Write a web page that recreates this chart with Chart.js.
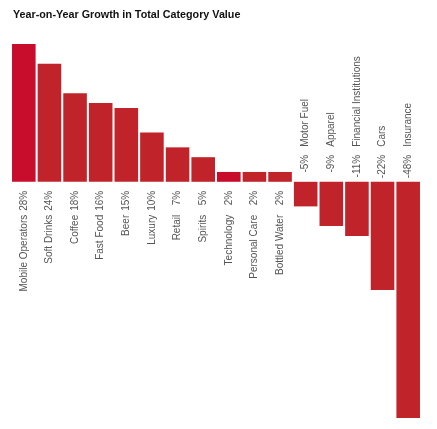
<!DOCTYPE html>
<html>
<head>
<meta charset="utf-8">
<script src="https://cdn.jsdelivr.net/npm/chart.js@4"></script>
<style>
  body { margin: 0; background: #fff; }
</style>
</head>
<body>
<canvas id="barChart" width="437" height="429"></canvas>
<script>
const categories = [
    'Mobile Operators', 'Soft Drinks', 'Coffee', 'Fast Food', 'Beer',
    'Luxury', 'Retail', 'Spirits', 'Technology', 'Personal Care',
    'Bottled Water', 'Motor Fuel', 'Apparel', 'Financial Institutions',
    'Cars', 'Insurance'
];
const growth = [28, 24, 18, 16, 15, 10, 7, 5, 2, 2, 2, -5, -9, -11, -22, -48];
const highlighted = ['Mobile Operators', 'Technology'];

const chartTitle = 'Year-on-Year Growth in Total Category Value';
const labelFont = '10px "Liberation Sans", Arial, sans-serif';

// two columns of rotated text: value next to the zero line, then the name
function rotatedText(ctx, text, x, y, align) {
    ctx.save();
    ctx.translate(x, y);
    ctx.rotate(-Math.PI / 2);
    ctx.textAlign = align;
    ctx.fillText(text, 0, 0);
    ctx.restore();
}

const barLabels = {
    id: 'barLabels',
    afterDatasetsDraw(chart) {
        const ctx = chart.ctx;
        const meta = chart.getDatasetMeta(0);
        const zero = chart.scales.y.getPixelForValue(0);
        ctx.save();
        ctx.font = labelFont;
        ctx.fillStyle = '#555';
        ctx.textBaseline = 'middle';
        meta.data.forEach((bar, i) => {
            const v = growth[i];
            if (v >= 0) {
                rotatedText(ctx, v + '%', bar.x, zero + 9, 'right');
                rotatedText(ctx, categories[i], bar.x, zero + 33, 'right');
            } else {
                rotatedText(ctx, v + '%', bar.x, zero - 27, 'right');
                rotatedText(ctx, categories[i], bar.x, zero - 35, 'left');
            }
        });
        ctx.font = 'bold 10.75px "Liberation Sans", Arial, sans-serif';
        ctx.fillStyle = '#111';
        ctx.textAlign = 'left';
        ctx.fillText(chartTitle, 13, 15);
        ctx.restore();
    }
};

const ctx = document.getElementById('barChart').getContext('2d');
new Chart(ctx, {
    type: 'bar',
    data: {
        labels: categories,
        datasets: [{
            data: growth,
            backgroundColor: categories.map(c => highlighted.includes(c) ? '#c70c2c' : '#c1232a'),
            borderWidth: 0,
            barPercentage: 0.92,
            categoryPercentage: 1
        }]
    },
    options: {
        responsive: false,
        animation: false,
        layout: {
            padding: { left: 11, right: 16, top: 44, bottom: 11 }
        },
        plugins: {
            legend: { display: false },
            tooltip: { enabled: false }
        },
        scales: {
            x: { display: false },
            y: { display: false, min: -48, max: 28 }
        }
    },
    plugins: [barLabels]
});
</script>
</body>
</html>
